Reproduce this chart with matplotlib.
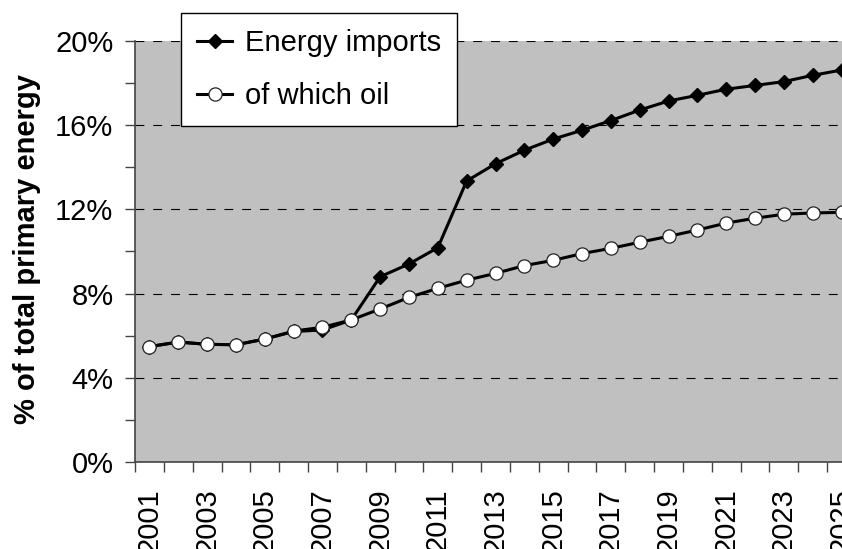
import matplotlib
matplotlib.use('Agg')
import matplotlib.pyplot as plt
import numpy as np
from matplotlib.ticker import FixedLocator, FuncFormatter

plt.rcParams['font.family'] = ['Liberation Sans', 'DejaVu Sans']

# 数据
years = list(range(2001, 2026))
energy_imports = [5.48, 5.70, 5.59, 5.57, 5.84, 6.20, 6.27, 6.75, 8.80, 9.41,
                  10.18, 13.35, 14.17, 14.81, 15.34, 15.76, 16.22, 16.72, 17.15, 17.42,
                  17.71, 17.89, 18.07, 18.37, 18.62]
oil = [5.48, 5.70, 5.59, 5.57, 5.84, 6.22, 6.40, 6.75, 7.27, 7.82,
       8.25, 8.64, 8.96, 9.33, 9.58, 9.90, 10.15, 10.44, 10.72, 11.02,
       11.35, 11.58, 11.77, 11.83, 11.86]
series_labels = ['Energy imports', 'of which oil']

W, H = 842, 549
fs = 21
fig = plt.figure(figsize=(W / 100, H / 100), dpi=100)
# 绘图区向右超出画布（原图右侧被裁掉）
ax = fig.add_axes([135 / W, 87 / H, 721 / W, 421 / H])
ax.set_facecolor('#C0C0C0')

x = np.arange(len(years))
ax.plot(x, energy_imports, color='black', lw=2.2, marker='D', ms=7,
        mfc='black', mec='black', mew=1, label=series_labels[0], zorder=3)
ax.plot(x, oil, color='black', lw=2.2, marker='o', ms=9.5,
        mfc='white', mec='#222222', mew=0.9, label=series_labels[1], zorder=4)

ax.set_xlim(-0.5, len(years) - 0.5)
ax.set_ylim(0, 20)

# y 轴
ax.yaxis.set_major_locator(FixedLocator([0, 4, 8, 12, 16, 20]))
ax.yaxis.set_minor_locator(FixedLocator([2, 6, 10, 14, 18]))
ax.yaxis.set_major_formatter(FuncFormatter(lambda v, p: f'{v:.0f}%'))
ax.tick_params(axis='y', which='both', direction='out', length=7, width=1,
               color='#444444', labelsize=fs, pad=8.5)

# x 轴：刻度在类别边界，标签隔年
ax.xaxis.set_minor_locator(FixedLocator(np.arange(-0.5, len(years), 1)))
ax.set_xticks(x[::2])
ax.set_xticklabels([str(y) for y in years[::2]], rotation=90, va='top', ha='center')
ax.tick_params(axis='x', which='major', length=0, labelsize=fs, pad=19)
ax.tick_params(axis='x', which='minor', direction='out', length=7, width=1,
               color='#444444')

ax.grid(axis='y', which='major', color='black', lw=0.8,
        linestyle=(0, (8, 8)))
ax.set_axisbelow(True)

for s in ['top', 'right']:
    ax.spines[s].set_visible(False)
for s in ['left', 'bottom']:
    ax.spines[s].set_color('#444444')
    ax.spines[s].set_linewidth(1.2)

ax.set_ylabel('% of total primary energy', fontsize=fs, fontweight='bold')
ax.yaxis.set_label_coords(-0.13, 0.506)

leg = ax.legend(loc='upper left', bbox_to_anchor=(181 / W, 1 - 13 / H),
                bbox_transform=fig.transFigure, borderaxespad=0,
                fontsize=fs, frameon=True, fancybox=False, framealpha=1,
                edgecolor='black', handlelength=1.2, handletextpad=0.45,
                labelspacing=0.85, borderpad=0.55)
leg.get_frame().set_linewidth(1)
leg.set_zorder(10)

fig.savefig('out.png', dpi=100)
